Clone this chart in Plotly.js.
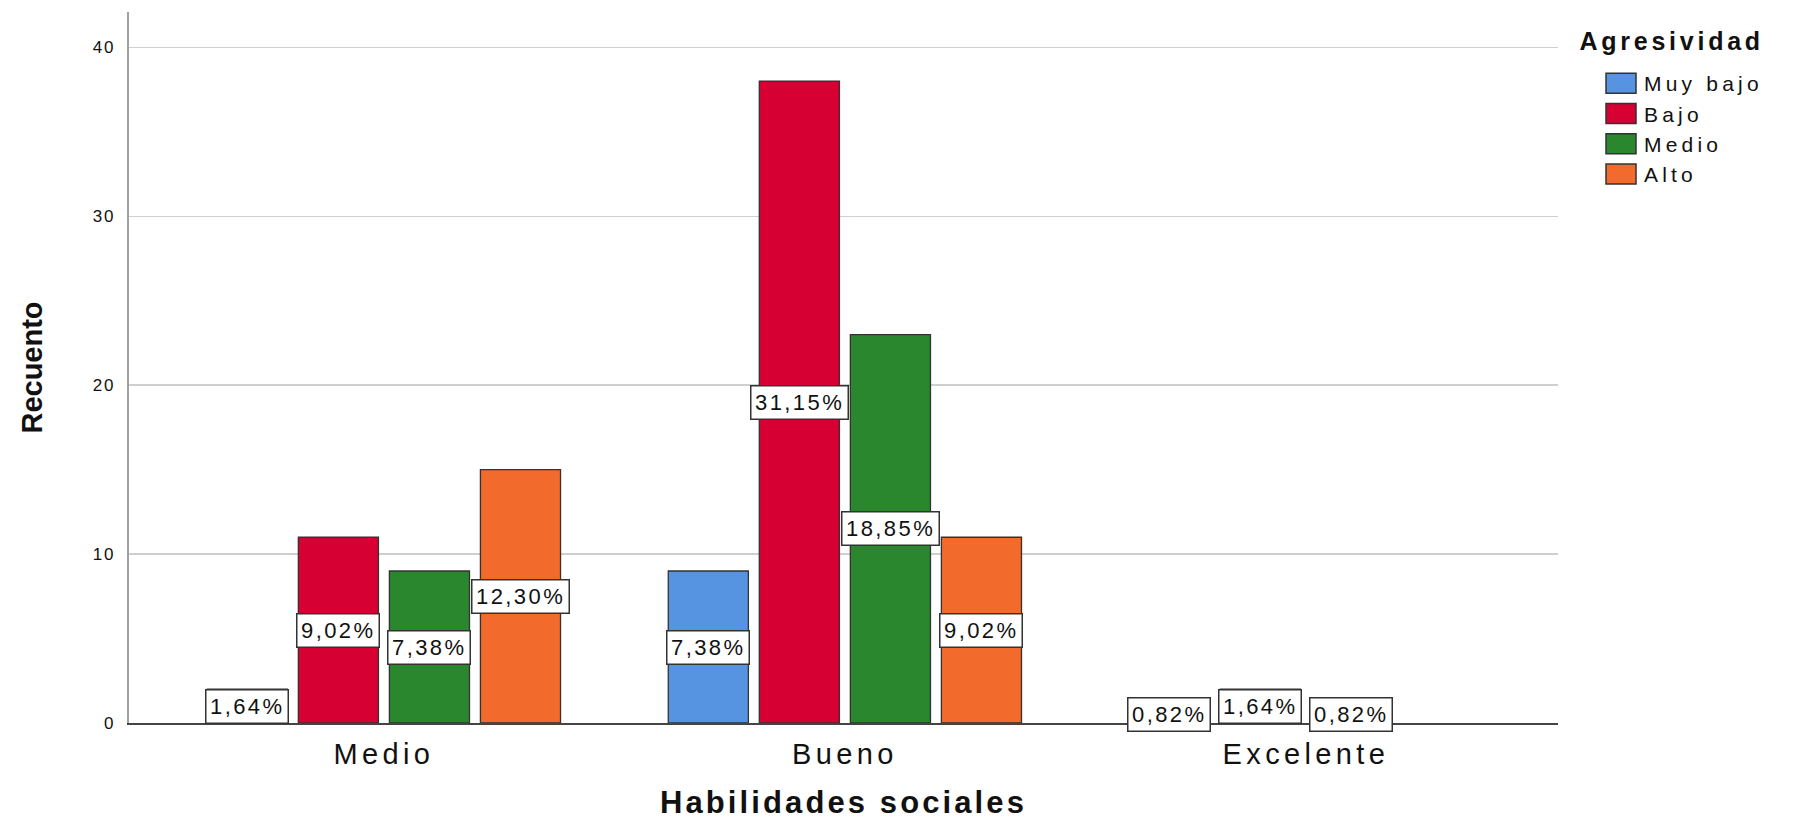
<!DOCTYPE html>
<html><head><meta charset="utf-8">
<script src="https://cdn.plot.ly/plotly-3.0.1.min.js"></script>
<style>
html,body{margin:0;padding:0;background:#fff;}
#chart{width:1807px;height:820px;}
.xtick text {letter-spacing:0.15em;}
.ytick text {letter-spacing:0.1em;}
.g-xtitle text {letter-spacing:0.1em;}
.legendtext {letter-spacing:0.2em;}
.annotation-text {letter-spacing:0.11em;}
</style></head><body><div id="chart"></div>
<script>
const categories = ['Medio', 'Bueno', 'Excelente'];
const seriesNames = ['Muy bajo', 'Bajo', 'Medio', 'Alto'];
const muyBajo = [2, 9, 1];
const bajo = [11, 38, 2];
const medio = [9, 23, 1];
const alto = [15, 11, 0];
const seriesValues = [muyBajo, bajo, medio, alto];
const colors = ['#5694E1', '#D60032', '#2A872E', '#F26A2C'];
const legendTitle = 'Agresividad';
const xTitle = 'Habilidades sociales';
const yTitle = 'Recuento';

const FONT = 'Liberation Sans, Arial, sans-serif';
const total = seriesValues.reduce((s, arr) => s + arr.reduce((a, b) => a + b, 0), 0);
const bargap = 0.21;
const slot = (1 - bargap) / seriesNames.length;

const traces = seriesNames.map((name, j) => ({
  type: 'bar',
  name: name,
  x: categories,
  y: seriesValues[j].map(v => v > 0 ? v : null),
  marker: {color: colors[j], line: {color: '#333333', width: 1.3}},
  legendgroup: 'g' + j,
  hoverinfo: 'x+y+name'
}));

const annotations = [];
seriesValues.forEach((vals, j) => {
  vals.forEach((v, i) => {
    if (v <= 0) return;
    annotations.push({
      xref: 'x', yref: 'y',
      x: i + (j - 1.5) * slot,
      y: v / 2,
      text: (v / total * 100).toFixed(2).replace('.', ',') + '%',
      showarrow: false,
      font: {family: FONT, size: 22, color: '#111'},
      bgcolor: '#ffffff',
      bordercolor: '#333333',
      borderwidth: 1.5,
      borderpad: 3.5,
      xanchor: 'center', yanchor: 'middle'
    });
  });
});

// legend title drawn as a paper annotation
const legendTitleIndex = annotations.length;
annotations.push({
  xref: 'paper', yref: 'paper',
  x: 1.0173, y: 1 - (41 - 12) / 711,
  xanchor: 'left', yanchor: 'middle',
  text: '<b>' + legendTitle + '</b>',
  showarrow: false,
  font: {family: FONT, size: 25, color: '#111'}
});
const st = document.createElement('style');
st.textContent = '.annotation[data-index="' + legendTitleIndex + '"] .annotation-text{letter-spacing:0.15em;}';
document.head.appendChild(st);

const layout = {
  width: 1807, height: 820,
  paper_bgcolor: '#ffffff', plot_bgcolor: '#ffffff',
  margin: {l: 129, r: 249, t: 12, b: 97},
  barmode: 'group',
  bargap: bargap,
  bargroupgap: 0.12,
  font: {family: FONT, color: '#111'},
  xaxis: {
    type: 'category',
    range: [-0.553, 2.547],
    showgrid: false,
    showline: true, linecolor: '#444', linewidth: 1.5,
    ticks: '',
    ticklabelstandoff: 5,
    tickfont: {family: FONT, size: 29, color: '#111'},
    title: {text: xTitle, font: {family: FONT, size: 31, color: '#111', weight: 'bold'}, standoff: 29},
    automargin: false,
    zeroline: false
  },
  yaxis: {
    range: [0, 42.1],
    tickvals: [0, 10, 20, 30, 40],
    showgrid: true, gridcolor: '#cfcfcf', gridwidth: 1.5,
    showline: true, linecolor: '#a0a0a0', linewidth: 2.5,
    ticks: '',
    ticklabelstandoff: 8,
    tickfont: {family: FONT, size: 17, color: '#111'},
    title: {text: yTitle, font: {family: FONT, size: 29, color: '#111', weight: 'bold'}, standoff: 42},
    automargin: false,
    zeroline: false
  },
  showlegend: true,
  legend: {
    x: 1.028, xanchor: 'left',
    y: 1 - (63 - 12) / 711, yanchor: 'top',
    font: {family: FONT, size: 21, color: '#111'},
    traceorder: 'grouped',
    tracegroupgap: 0,
    itemwidth: 36,
    bgcolor: 'rgba(0,0,0,0)'
  },
  annotations: annotations
};

Plotly.newPlot('chart', traces, layout, {displayModeBar: false, staticPlot: true}).then(gd => {
  // larger legend swatches, like the reference
  gd.querySelectorAll('.legend .legendpoints path').forEach(p => {
    p.setAttribute('d', 'M-15,-10H15V10H-15Z');
    p.style.strokeWidth = '1.5px';
    p.style.stroke = '#333333';
  });
});
</script></body></html>
